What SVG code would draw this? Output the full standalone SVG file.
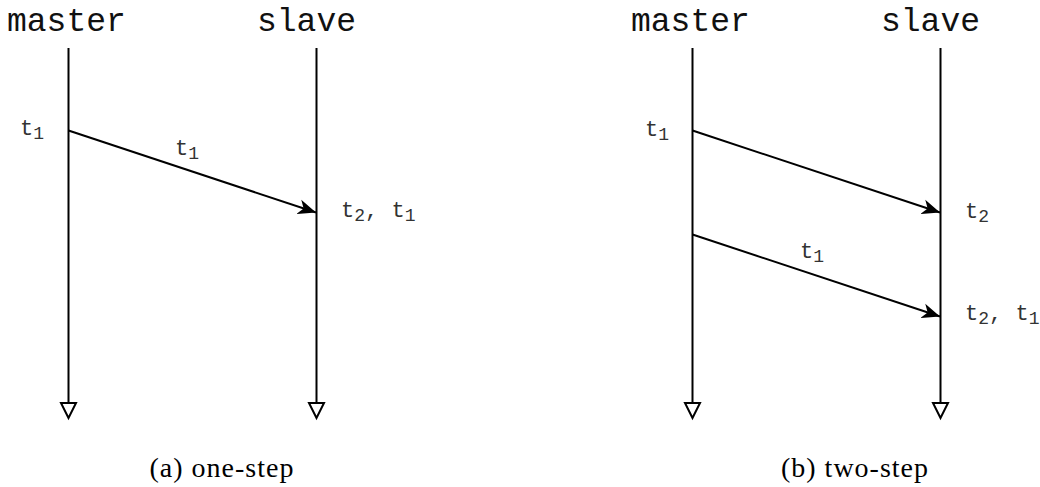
<svg xmlns="http://www.w3.org/2000/svg" width="1040" height="487" viewBox="0 0 1040 487">
<style>
.hdr{font-family:"Liberation Mono",monospace;font-size:33px;fill:#111}
.lbl{font-family:"Liberation Mono",monospace;font-size:22px;fill:#333}
.sub{font-size:18px}
.cap{font-family:"Liberation Serif",serif;font-size:28px;letter-spacing:1px;fill:#000}
.life{stroke:#000;stroke-width:2;fill:none}
.msg{stroke:#000;stroke-width:2;fill:none;marker-end:url(#arr)}
.tri{fill:#fff;stroke:#000;stroke-width:2;stroke-linejoin:miter}
</style>
<defs>
<marker id="arr" markerUnits="userSpaceOnUse" markerWidth="20" markerHeight="16" refX="18" refY="7.5" orient="auto" viewBox="0 0 20 15">
<path d="M0,0 L18,7.5 L0,15 L5,7.5 z" fill="#000"/>
</marker>
</defs>
<g id="panel-a">
<g id="a-master">
<text class="hdr" x="7" y="31">master</text>
<line class="life" x1="68.5" y1="48" x2="68.5" y2="403"/>
<polygon class="tri" points="61,403 76,403 68.5,418"/>
</g>
<g id="a-slave">
<text class="hdr" x="257" y="31">slave</text>
<line class="life" x1="316.5" y1="48" x2="316.5" y2="403"/>
<polygon class="tri" points="309,403 324,403 316.5,418"/>
</g>
<g id="a-labels">
<text class="lbl" x="20" y="135">t<tspan class="sub" dy="4">1</tspan></text>
<text class="lbl" x="175" y="155">t<tspan class="sub" dy="4">1</tspan></text>
<text class="lbl" x="341" y="217">t<tspan class="sub" dy="4">2</tspan><tspan dy="-4">, t</tspan><tspan class="sub" dy="4">1</tspan></text>
</g>
<text id="cap-a" class="cap" x="222" y="477" text-anchor="middle">(a) one-step</text>
</g>
<g id="panel-b">
<g id="b-master">
<text class="hdr" x="631" y="31">master</text>
<line class="life" x1="692.5" y1="48" x2="692.5" y2="403"/>
<polygon class="tri" points="685,403 700,403 692.5,418"/>
</g>
<g id="b-slave">
<text class="hdr" x="881" y="31">slave</text>
<line class="life" x1="940.5" y1="48" x2="940.5" y2="403"/>
<polygon class="tri" points="933,403 948,403 940.5,418"/>
</g>
<g id="b-labels">
<text class="lbl" x="645" y="136">t<tspan class="sub" dy="4">1</tspan></text>
<text class="lbl" x="800" y="258">t<tspan class="sub" dy="4">1</tspan></text>
<text class="lbl" x="965" y="218">t<tspan class="sub" dy="4">2</tspan></text>
<text class="lbl" x="965" y="320">t<tspan class="sub" dy="4">2</tspan><tspan dy="-4">, t</tspan><tspan class="sub" dy="4">1</tspan></text>
</g>
<text id="cap-b" class="cap" x="855" y="477" text-anchor="middle">(b) two-step</text>
</g>
<g id="connectors">
<line class="msg" x1="68.5" y1="130.5" x2="316" y2="212.5"/>
<line class="msg" x1="692.5" y1="130.5" x2="940" y2="212.5"/>
<line class="msg" x1="692.5" y1="234.5" x2="940" y2="316.5"/>
</g>
</svg>
